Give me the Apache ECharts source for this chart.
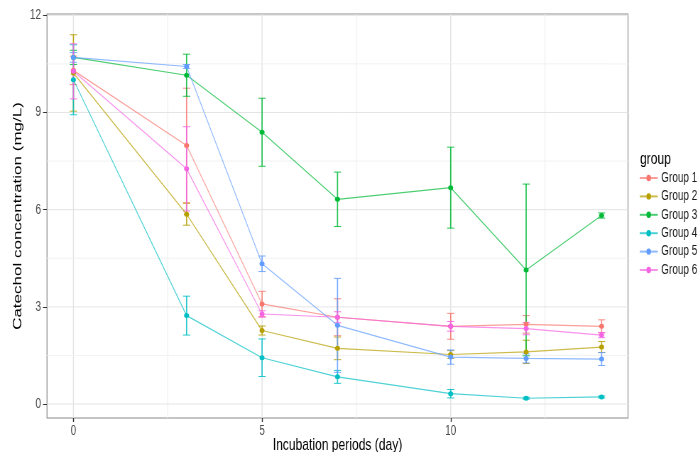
<!DOCTYPE html>
<html>
<head>
<meta charset="utf-8">
<script src="https://cdn.jsdelivr.net/npm/echarts@6/dist/echarts.min.js"></script>
<style>
html,body{margin:0;padding:0;background:#fff;overflow:hidden;width:698px;height:452px;}
#c{height:452px;transform-origin:0 0;}
</style>
</head>
<body>
<div id="c"></div>
<script>
const days = [0, 3, 5, 7, 10, 12, 14];
const groupNames = ['Group 1', 'Group 2', 'Group 3', 'Group 4', 'Group 5', 'Group 6'];
const g1Mean = [10.30, 7.98, 3.09, 2.68, 2.40, 2.46, 2.40];
const g1Err  = [0.44, 1.77, 0.39, 0.57, 0.40, 0.27, 0.20];
const g2Mean = [10.22, 5.86, 2.27, 1.72, 1.53, 1.61, 1.76];
const g2Err  = [1.18, 0.34, 0.14, 0.35, 0.12, 0.36, 0.17];
const g3Mean = [10.70, 10.15, 8.39, 6.32, 6.68, 4.14, 5.82];
const g3Err  = [0.22, 0.65, 1.05, 0.84, 1.25, 2.65, 0.08];
const g4Mean = [10.01, 2.73, 1.43, 0.84, 0.32, 0.18, 0.22];
const g4Err  = [1.08, 0.60, 0.58, 0.20, 0.13, 0.03, 0.03];
const g5Mean = [10.70, 10.42, 4.33, 2.43, 1.45, 1.41, 1.39];
const g5Err  = [0.15, 0.06, 0.24, 1.45, 0.22, 0.14, 0.20];
const g6Mean = [10.27, 7.26, 2.78, 2.68, 2.40, 2.33, 2.13];
const g6Err  = [0.85, 1.30, 0.10, 0.17, 0.15, 0.19, 0.08];
const xTicks = [0, 5, 10];
const yTicks = [0, 3, 6, 9, 12];
const xMinor = [2.5, 7.5, 12.5];
const yMinor = [1.5, 4.5, 7.5, 10.5];
const xRange = [-0.7, 14.7];
const yRange = [-0.43, 12.04];

// the reference is horizontally condensed; draw wider and condense with CSS
const S = 0.71;
const W = 698 / S;
const el = document.getElementById('c');
el.style.width = W + 'px';
el.style.transform = 'scaleX(' + S + ')';

const colors = ['#F8766D', '#B79F00', '#00BA38', '#00BFC4', '#619CFF', '#F564E3'];
const means = [g1Mean, g2Mean, g3Mean, g4Mean, g5Mean, g6Mean];
const errs = [g1Err, g2Err, g3Err, g4Err, g5Err, g6Err];
const F = "'Liberation Sans', Arial, sans-serif";

const gridData = [];
xTicks.forEach(v => gridData.push([0, v, 1]));
xMinor.forEach(v => gridData.push([0, v, 0]));
yTicks.forEach(v => gridData.push([1, v, 1]));
yMinor.forEach(v => gridData.push([1, v, 0]));

const series = [{
  type: 'custom', name: 'grid', silent: true, z: 0,
  data: gridData,
  renderItem: function (params, api) {
    const dir = api.value(0), v = api.value(1), major = api.value(2);
    let p1, p2;
    if (dir === 0) { p1 = api.coord([v, yRange[0]]); p2 = api.coord([v, yRange[1]]); }
    else { p1 = api.coord([xRange[0], v]); p2 = api.coord([xRange[1], v]); }
    return { type: 'line', shape: { x1: p1[0], y1: p1[1], x2: p2[0], y2: p2[1] },
      style: { stroke: major ? '#e4e4e4' : '#f2f2f2', lineWidth: dir === 0 ? 1 / S : 1 } };
  }
}];

groupNames.forEach((name, gi) => {
  series.push({
    type: 'custom', name: 'err' + gi, z: 2, silent: true,
    data: days.map((d, i) => [d, means[gi][i] - errs[gi][i], means[gi][i] + errs[gi][i]]),
    renderItem: function (params, api) {
      const x = api.value(0);
      const lo = api.coord([x, api.value(1)]);
      const hi = api.coord([x, api.value(2)]);
      const w = 3.6 / S;
      const vst = { stroke: colors[gi], lineWidth: 1.2 / S, opacity: 0.85 };
      const hst = { stroke: colors[gi], lineWidth: 1, opacity: 0.85 };
      return { type: 'group', children: [
        { type: 'line', shape: { x1: lo[0], y1: lo[1], x2: hi[0], y2: hi[1] }, style: vst },
        { type: 'line', shape: { x1: lo[0] - w, y1: lo[1], x2: lo[0] + w, y2: lo[1] }, style: hst },
        { type: 'line', shape: { x1: hi[0] - w, y1: hi[1], x2: hi[0] + w, y2: hi[1] }, style: hst }
      ] };
    }
  });
});

groupNames.forEach((name, gi) => {
  series.push({
    type: 'line', name: name, z: 3,
    data: days.map((d, i) => [d, means[gi][i]]),
    symbol: 'circle', symbolSize: [5 / S, 5],
    itemStyle: { color: colors[gi] },
    lineStyle: { width: 1.2, color: colors[gi], opacity: 0.7 }
  });
});

const chart = echarts.init(el, null, { renderer: 'canvas', width: W, height: 452 });
chart.setOption({
  animation: false,
  backgroundColor: '#fff',
  graphic: [{ type: 'text', left: 640 / S, top: 151, style: { text: 'group', font: "17px " + F, fill: '#000' } }],
  legend: {
    orient: 'vertical', left: 639 / S, top: 171, padding: 0,
    itemWidth: 18 / S, itemHeight: 8, itemGap: 4.4,
    data: groupNames,
    textStyle: { fontSize: 14, fontFamily: F, color: '#1a1a1a' }
  },
  grid: { left: 47 / S, right: 70 / S, top: 14, bottom: 34, show: true, borderColor: '#8a8a8a', borderWidth: 1.2,
    outerBoundsMode: 'none', containLabel: false },
  xAxis: {
    type: 'value', min: xRange[0], max: xRange[1],
    axisLine: { show: false, onZero: false }, splitLine: { show: false },
    axisTick: { show: true, customValues: xTicks, length: 4, lineStyle: { color: '#333', width: 1 / S } },
    axisLabel: { customValues: xTicks, color: '#4d4d4d', fontSize: 14, fontFamily: F, margin: 6 },
    name: 'Incubation periods (day)', nameLocation: 'middle', nameGap: 19, nameMoveOverlap: false,
    nameTextStyle: { color: '#000', fontSize: 17, fontFamily: F }
  },
  yAxis: {
    type: 'value', min: yRange[0], max: yRange[1],
    axisLine: { show: false, onZero: false }, splitLine: { show: false },
    axisTick: { show: true, customValues: yTicks, length: 4 / S, lineStyle: { color: '#333' } },
    axisLabel: { customValues: yTicks, color: '#4d4d4d', fontSize: 14, fontFamily: F, margin: 8.5 },
    name: 'Catechol concentration (mg/L)', nameLocation: 'middle', nameGap: 32, nameRotate: 90, nameMoveOverlap: false,
    nameTextStyle: { color: '#000', fontSize: 17, fontFamily: F }
  },
  series: series
});
</script>
</body>
</html>
